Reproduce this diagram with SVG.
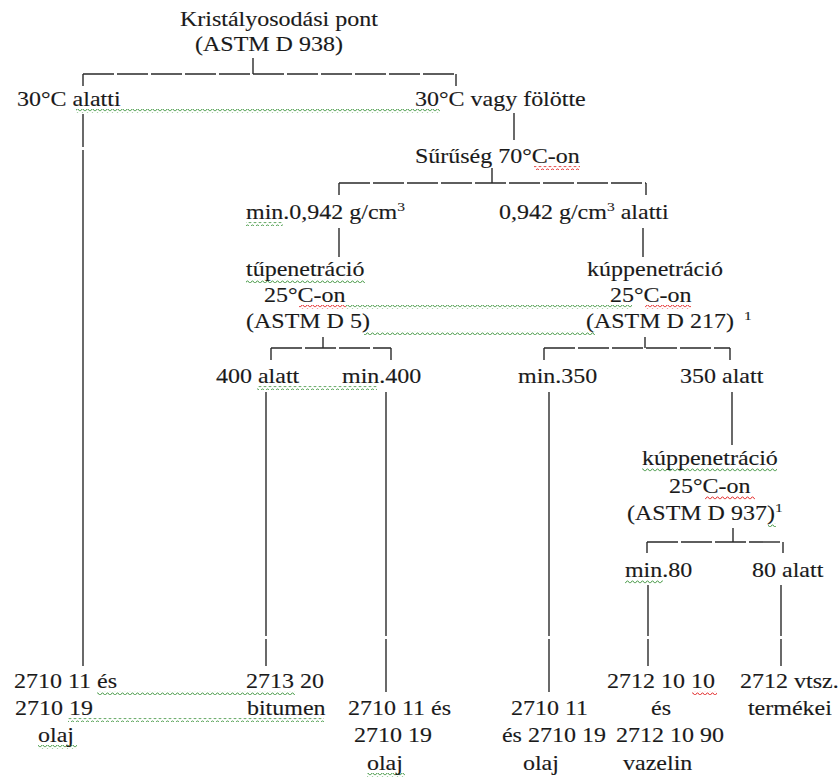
<svg xmlns="http://www.w3.org/2000/svg" width="839" height="778" viewBox="0 0 839 778">
<style>
.t{font-family:"Liberation Serif","Times New Roman",serif;font-size:20px;fill:#1a1a1a;stroke:#1a1a1a;stroke-width:0.12px}
.s{font-size:13px}
.c line{stroke:#2a2a2a;stroke-width:1.4}
.c .h{stroke-dasharray:31 3}
.g{fill:url(#wg)}
.r{fill:url(#wr)}
</style>
<defs>
<pattern id="wg" patternUnits="userSpaceOnUse" width="5" height="4"><path d="M0 3.3L2.5 0.7L5 3.3" fill="none" stroke="#3f943f" stroke-width="1"/></pattern>
<pattern id="wr" patternUnits="userSpaceOnUse" width="5" height="4"><path d="M0 3.3L2.5 0.7L5 3.3" fill="none" stroke="#e02020" stroke-width="1"/></pattern>
</defs>
<rect width="839" height="778" fill="#fff"/>
<g id="connectors" class="c">
<line x1="253" y1="58" x2="253" y2="74"/>
<line class="h" x1="83" y1="74" x2="456" y2="74"/>
<line x1="83" y1="74" x2="83" y2="86"/>
<line x1="456" y1="74" x2="456" y2="86"/>
<line x1="83" y1="114" x2="83" y2="147"/>
<line x1="83" y1="150" x2="83" y2="666"/>
<line x1="514" y1="113" x2="514" y2="140"/>
<line x1="492" y1="168" x2="492" y2="183"/>
<line class="h" x1="339" y1="183" x2="646" y2="183"/>
<line x1="339" y1="183" x2="339" y2="195"/>
<line x1="646" y1="183" x2="646" y2="195"/>
<line x1="339" y1="228" x2="339" y2="257"/>
<line x1="643" y1="228" x2="643" y2="257"/>
<line x1="323" y1="337" x2="323" y2="348"/>
<line class="h" x1="271" y1="348" x2="391" y2="348"/>
<line x1="271" y1="348" x2="271" y2="360"/>
<line x1="391" y1="348" x2="391" y2="360"/>
<line x1="645" y1="337" x2="645" y2="348"/>
<line class="h" x1="544" y1="348" x2="730" y2="348"/>
<line x1="544" y1="348" x2="544" y2="360"/>
<line x1="730" y1="348" x2="730" y2="360"/>
<line x1="266" y1="392" x2="266" y2="636"/>
<line x1="266" y1="639" x2="266" y2="666"/>
<line x1="386" y1="392" x2="386" y2="636"/>
<line x1="386" y1="639" x2="386" y2="692"/>
<line x1="549" y1="392" x2="549" y2="636"/>
<line x1="549" y1="639" x2="549" y2="692"/>
<line x1="732" y1="392" x2="732" y2="445"/>
<line x1="733" y1="528" x2="733" y2="542"/>
<line class="h" x1="647" y1="542" x2="783" y2="542"/>
<line x1="647" y1="542" x2="647" y2="553"/>
<line x1="783" y1="542" x2="783" y2="553"/>
<line x1="648" y1="585" x2="648" y2="636"/>
<line x1="648" y1="639" x2="648" y2="666"/>
<line x1="781" y1="585" x2="781" y2="636"/>
<line x1="781" y1="639" x2="781" y2="666"/>
</g>
<g id="spellcheck">
<rect class="g" x="76" y="109" width="364" height="4"/>
<rect class="r" x="534" y="166" width="46" height="4"/>
<rect class="g" x="246" y="222" width="37" height="4"/>
<rect class="g" x="246" y="279" width="119" height="4"/>
<rect class="r" x="299" y="305" width="47" height="4"/>
<rect class="g" x="346" y="305" width="286" height="4"/>
<rect class="r" x="645" y="305" width="46" height="4"/>
<rect class="g" x="364" y="331" width="231" height="4"/>
<rect class="g" x="257" y="386" width="120" height="4"/>
<rect class="g" x="642" y="468" width="135" height="4"/>
<rect class="r" x="705" y="496" width="50" height="4"/>
<rect class="g" x="768" y="523" width="8" height="4"/>
<rect class="g" x="625" y="580" width="38" height="4"/>
<rect class="g" x="97" y="691" width="198" height="4"/>
<rect class="r" x="692" y="691" width="25" height="4"/>
<rect class="g" x="68" y="718" width="256" height="4"/>
<rect class="g" x="38" y="745" width="39" height="4"/>
<rect class="g" x="367" y="773" width="38" height="4"/>
</g>
<g id="n-kristalyosodasi" class="t" transform="scale(1.2 1)"><text x="150" y="26">Kristályosodási pont</text><text x="162.5" y="51">(ASTM D 938)</text></g>
<g id="n-30-alatti" class="t" transform="scale(1.2 1)"><text x="14.2" y="106">30°C alatti</text></g>
<g id="n-30-folotte" class="t" transform="scale(1.2 1)"><text x="345.8" y="106">30°C vagy fölötte</text></g>
<g id="n-suruseg" class="t" transform="scale(1.2 1)"><text x="345.8" y="163">Sűrűség 70°C-on</text></g>
<g id="n-min0942" class="t" transform="scale(1.2 1)"><text x="205" y="219">min.0,942 g/cm<tspan class="s" dy="-8">3</tspan></text></g>
<g id="n-0942-alatti" class="t" transform="scale(1.2 1)"><text x="415.8" y="219">0,942 g/cm<tspan class="s" dy="-8">3</tspan><tspan dy="8"> alatti</tspan></text></g>
<g id="n-tupenetracio" class="t" transform="scale(1.2 1)"><text x="205" y="276">tűpenetráció</text><text x="220" y="302">25°C-on</text><text x="205" y="328">(ASTM D 5)</text></g>
<g id="n-kuppenetracio1" class="t" transform="scale(1.2 1)"><text x="489.2" y="276">kúppenetráció</text><text x="508.3" y="302">25°C-on</text><text x="488.3" y="328">(ASTM D 217)</text><text class="s" x="620" y="320">1</text></g>
<g id="n-400-alatt" class="t" transform="scale(1.2 1)"><text x="180" y="383">400 alatt</text></g>
<g id="n-min400" class="t" transform="scale(1.2 1)"><text x="285" y="383">min.400</text></g>
<g id="n-min350" class="t" transform="scale(1.2 1)"><text x="431.7" y="383">min.350</text></g>
<g id="n-350-alatt" class="t" transform="scale(1.2 1)"><text x="566.7" y="383">350 alatt</text></g>
<g id="n-kuppenetracio2" class="t" transform="scale(1.2 1)"><text x="535" y="465">kúppenetráció</text><text x="557.5" y="493">25°C-on</text><text x="522.5" y="520">(ASTM D 937)<tspan class="s" dy="-8">1</tspan></text></g>
<g id="n-min80" class="t" transform="scale(1.2 1)"><text x="520.8" y="577">min.80</text></g>
<g id="n-80-alatt" class="t" transform="scale(1.2 1)"><text x="626.7" y="577">80 alatt</text></g>
<g id="n-olaj1" class="t" transform="scale(1.2 1)"><text x="11.7" y="688">2710 11 és</text><text x="12.5" y="715">2710 19</text><text x="31.7" y="742">olaj</text></g>
<g id="n-bitumen" class="t" transform="scale(1.2 1)"><text x="205" y="688">2713 20</text><text x="205.8" y="715">bitumen</text></g>
<g id="n-olaj2" class="t" transform="scale(1.2 1)"><text x="290" y="715">2710 11 és</text><text x="295" y="742">2710 19</text><text x="305.8" y="770">olaj</text></g>
<g id="n-olaj3" class="t" transform="scale(1.2 1)"><text x="425.8" y="715">2710 11</text><text x="418.3" y="742">és 2710 19</text><text x="435.8" y="770">olaj</text></g>
<g id="n-vazelin" class="t" transform="scale(1.2 1)"><text x="505.8" y="688">2712 10 10</text><text x="542.5" y="715">és</text><text x="513.3" y="742">2712 10 90</text><text x="519.2" y="770">vazelin</text></g>
<g id="n-2712" class="t" transform="scale(1.2 1)"><text x="616.7" y="688">2712 vtsz.</text><text x="623.3" y="715">termékei</text></g>
</svg>
